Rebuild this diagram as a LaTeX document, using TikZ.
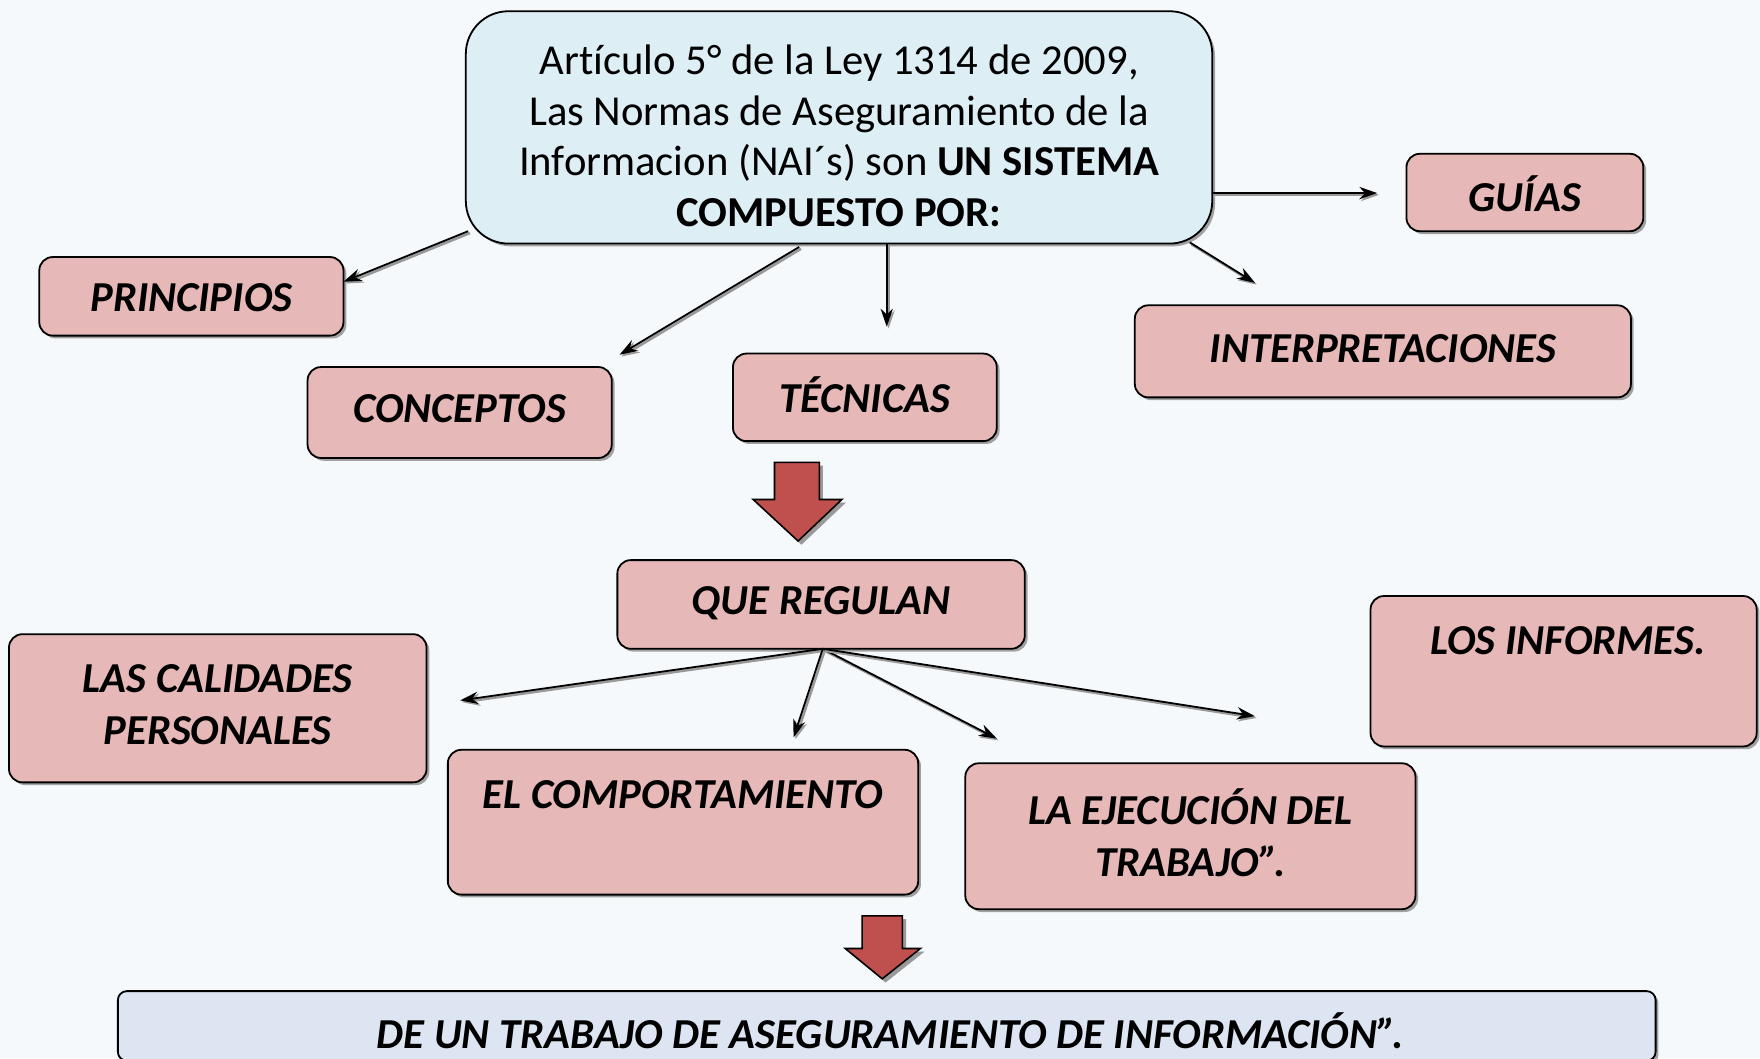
\documentclass[tikz,border=0pt]{standalone}
\usepackage{fontspec}
\setmainfont{Carlito}[Ligatures=NoCommon]
\usetikzlibrary{arrows.meta,shadows}
\definecolor{bgc}{HTML}{F5F9FB}
\definecolor{pinkf}{HTML}{E6B8B7}
\definecolor{bluef}{HTML}{DDEEF4}
\definecolor{botf}{HTML}{DCE5F1}
\definecolor{redf}{HTML}{C0504D}
\tikzset{
  boxshadow/.style={drop shadow={shadow xshift=2.5pt,shadow yshift=-2.5pt,fill=black!45,opacity=0.8}},
  pinkbox/.style={draw=black,line width=1.6pt,fill=pinkf,rounded corners=12pt,boxshadow,inner sep=0pt},
  mainbox/.style={draw=black,line width=1.6pt,fill=bluef,rounded corners=38pt,boxshadow,inner sep=0pt},
  botbox/.style={draw=black,line width=1.6pt,fill=botf,rounded corners=8pt,boxshadow,inner sep=0pt},
  ptext/.style={font=\fontsize{38}{46}\selectfont\bfseries\itshape,align=center,inner sep=0pt},
  mtext/.style={font=\fontsize{38}{45}\selectfont,align=center,inner sep=0pt},
  conn/.style={-{Stealth[length=16pt,width=11pt]},line width=1.6pt,
    preaction={draw=black!40,line width=2.4pt,-{Stealth[length=16pt,width=11pt]},transform canvas={shift={(1.6pt,-1.6pt)}}}},
  bigarrow/.style={draw=black,line width=1.4pt,fill=redf,line join=miter,
    preaction={fill=black!40,draw=black!40,transform canvas={shift={(3pt,-3pt)}}}}
}
\begin{document}
\begin{tikzpicture}[x=1pt,y=-1pt]
\fill[bgc] (0,0) rectangle (1568,943);
\useasboundingbox (0,0) rectangle (1568,943);

% main box
\node[mainbox,minimum width=665,minimum height=207] (main) at (747.5,113.5) {};
\node[mtext] (maint) at (747.5,121) {Artículo 5° de la Ley 1314 de 2009,\\Las Normas de Aseguramiento de la\\Informacion (NAI´s) son \textbf{UN SISTEMA}\\\textbf{COMPUESTO POR:}};

% first level boxes
\node[pinkbox,minimum width=211,minimum height=69] (guias) at (1358.5,171.5) {};
\node[ptext] (guiast) at (1358.5,173) {GUÍAS};
\node[pinkbox,minimum width=271,minimum height=70] (princ) at (170.5,264) {};
\node[ptext] (princt) at (170.5,265) {PRINCIPIOS};
\node[pinkbox,minimum width=271,minimum height=81] (conc) at (409.5,367.5) {};
\node[ptext] (conct) at (409.5,364) {CONCEPTOS};
\node[pinkbox,minimum width=235,minimum height=78] (tecn) at (770.5,354) {};
\node[ptext] (tecnt) at (770.5,352) {TÉCNICAS};
\node[pinkbox,minimum width=442,minimum height=82] (interp) at (1232,313) {};
\node[ptext] (interpt) at (1232,311) {INTERPRETACIONES};

% connectors from main
\coordinate (m1) at (417,206);
\coordinate (e1) at (306,251);
\draw[conn] (m1) -- (e1);
\coordinate (m2) at (712,220);
\coordinate (e2) at (552,316);
\draw[conn] (m2) -- (e2);
\coordinate (m3) at (790,217);
\coordinate (e3) at (790,291);
\draw[conn] (m3) -- (e3);
\coordinate (m4) at (1081,172);
\coordinate (e4) at (1227,172);
\draw[conn] (m4) -- (e4);
\coordinate (m5) at (1060,216);
\coordinate (e5) at (1118,252);
\draw[conn] (m5) -- (e5);

% red arrow 1
\draw[bigarrow] (690,412) -- (730,412) -- (730,445) -- (750,445) -- (711,482) -- (671,445) -- (690,445) -- cycle;

% que regulan
\node[pinkbox,minimum width=363,minimum height=79] (que) at (731.5,538.5) {};
\node[ptext] (quet) at (731.5,537) {QUE REGULAN};

% second level
\node[pinkbox,minimum width=372,minimum height=132] (calid) at (194,631) {};
\node[ptext] (calidt) at (194,628) {LAS CALIDADES\\PERSONALES};
\node[pinkbox,minimum width=419,minimum height=129] (comp) at (608.5,732.5) {};
\node[ptext] (compt) at (608.5,708) {EL COMPORTAMIENTO};
\node[pinkbox,minimum width=401,minimum height=130] (ejec) at (1060.5,745) {};
\node[ptext] (eject) at (1060.5,742) {LA EJECUCIÓN DEL\\TRABAJO”.};
\node[pinkbox,minimum width=344,minimum height=134] (inf) at (1393,598) {};
\node[ptext] (inft) at (1397,571) {LOS INFORMES.};

% connectors from que regulan
\coordinate (q0) at (733,578);
\coordinate (f1) at (410,624);
\coordinate (f2) at (707,657);
\coordinate (f3) at (888,658);
\coordinate (f4) at (1118,638);
\draw[conn] (q0) -- (f1);
\draw[conn] (q0) -- (f2);
\draw[conn] (q0) -- (f3);
\draw[conn] (q0) -- (f4);

% red arrow 2
\draw[bigarrow] (768,816) -- (804,816) -- (804,845) -- (820,845) -- (786,872) -- (753,845) -- (768,845) -- cycle;

% bottom box
\node[botbox,minimum width=1370,minimum height=62] (bot) at (790,914) {};
\node[ptext] (bott) at (793,918) {DE UN TRABAJO DE ASEGURAMIENTO DE INFORMACIÓN”.};
\end{tikzpicture}
\end{document}
